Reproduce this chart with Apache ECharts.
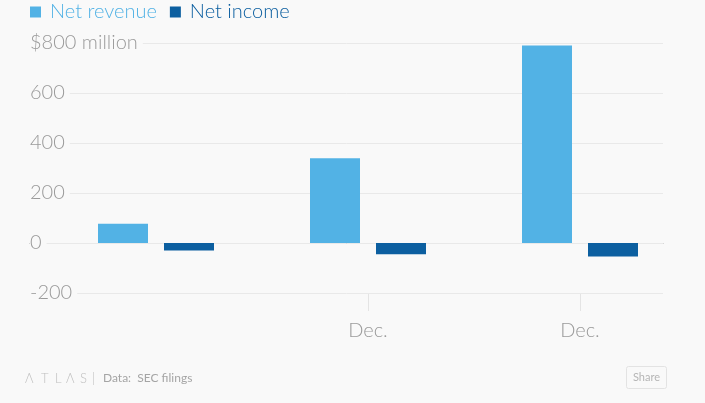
<!DOCTYPE html>
<html>
<head>
<meta charset="utf-8">
<script src="https://cdn.jsdelivr.net/npm/echarts@6/dist/echarts.min.js"></script>
<style>
  html, body { margin: 0; padding: 0; background: #f9f9f9; }
  #chart { width: 705px; height: 403px; }
</style>
</head>
<body>
<div id="chart"></div>
<script>
// ---- data ----
const categories = ['', 'Dec.', 'Dec.'];
const netRevenue = [77, 339, 790];
const netIncome = [-30, -45, -54];
const yTicks = [-200, 0, 200, 400, 600, 800];
const seriesNames = ['Net revenue', 'Net income'];
const sourceText = 'Data:  SEC filings';
const logoLetters = ['Λ', 'T', 'L', 'Λ', 'S'];

const FONT = 'Lato, "Open Sans", sans-serif';
const BG = '#f9f9f9';
const C_REV = '#52b2e5';
const C_INC = '#0c5fa0';

const logoX = [25, 41, 55, 66, 80];
const logoGraphics = logoLetters.map(function (ch, i) {
  return {
    type: 'text', left: logoX[i], top: 372,
    style: { text: ch, font: '300 13px ' + FONT, fill: '#c0c0c0' }
  };
});

const chart = echarts.init(document.getElementById('chart'));
chart.setOption({
  backgroundColor: BG,
  animation: false,
  textStyle: { fontFamily: FONT },
  legend: {
    left: 30, top: 2, padding: 0,
    icon: 'rect', itemWidth: 11, itemHeight: 11, itemGap: 13,
    selectedMode: false,
    data: [
      { name: seriesNames[0], textStyle: { color: C_REV } },
      { name: seriesNames[1], textStyle: { color: C_INC } }
    ],
    textStyle: { fontSize: 20, fontFamily: FONT, fontWeight: 300, padding: [0, 0, 0, 4] }
  },
  grid: [
    { left: 30, right: 42, top: 43, bottom: 110 },
    { left: 50, right: 19, top: 43, bottom: 110 }
  ],
  xAxis: [
    {
      gridIndex: 0, type: 'category', data: categories, z: 0,
      axisLine: { show: true, onZero: true, lineStyle: { color: '#a3a3a3', width: 1 } },
      axisTick: { show: false }, axisLabel: { show: false }, splitLine: { show: false }
    },
    {
      gridIndex: 1, type: 'category', data: categories, boundaryGap: true,
      axisLine: { show: false, onZero: false },
      axisTick: {
        show: true, alignWithLabel: true, length: 18,
        interval: function (i) { return i > 0; },
        lineStyle: { color: '#e4e4e4' }
      },
      axisLabel: { margin: 28, fontSize: 20, color: '#9a9a9a', fontFamily: FONT, fontWeight: 300 },
      splitLine: { show: false }
    }
  ],
  yAxis: [
    {
      gridIndex: 0, type: 'value', min: yTicks[0], max: yTicks[yTicks.length - 1], interval: 200, z: 3,
      axisLine: { show: false }, axisTick: { show: false },
      splitLine: { show: true, lineStyle: { color: '#e9e9e9', width: 1 } },
      axisLabel: {
        inside: true, margin: 0, fontSize: 20, color: '#9a9a9a', fontFamily: FONT, fontWeight: 300,
        backgroundColor: BG, padding: [2, 5, 2, 0],
        formatter: function (v) { return v === 800 ? '$800 million' : String(v); }
      }
    },
    {
      gridIndex: 1, type: 'value', min: yTicks[0], max: yTicks[yTicks.length - 1], interval: 200,
      show: false, splitLine: { show: false }
    }
  ],
  series: [
    {
      name: seriesNames[0], type: 'bar', xAxisIndex: 1, yAxisIndex: 1,
      data: netRevenue, barWidth: 50, barGap: '32%',
      itemStyle: { color: C_REV }, z: 4
    },
    {
      name: seriesNames[1], type: 'bar', xAxisIndex: 1, yAxisIndex: 1,
      data: netIncome, barWidth: 50, barGap: '32%',
      itemStyle: { color: C_INC }, z: 4
    }
  ],
  graphic: logoGraphics.concat([
    {
      type: 'rect', shape: { x: 93, y: 372, width: 1, height: 13 },
      style: { fill: '#d8d8d8' }
    },
    {
      type: 'text', left: 103, top: 372,
      style: { text: sourceText, font: '12px ' + FONT, fill: '#a5a5a5' }
    },
    {
      type: 'rect', shape: { x: 626.5, y: 366.5, width: 40, height: 22, r: 2 },
      style: { fill: BG, stroke: '#e3e3e3', lineWidth: 1 }
    },
    {
      type: 'text', x: 646.5, y: 377.5,
      style: { text: 'Share', font: '11px ' + FONT, fill: '#b5b5b5', align: 'center', verticalAlign: 'middle' }
    }
  ])
});
</script>
</body>
</html>
